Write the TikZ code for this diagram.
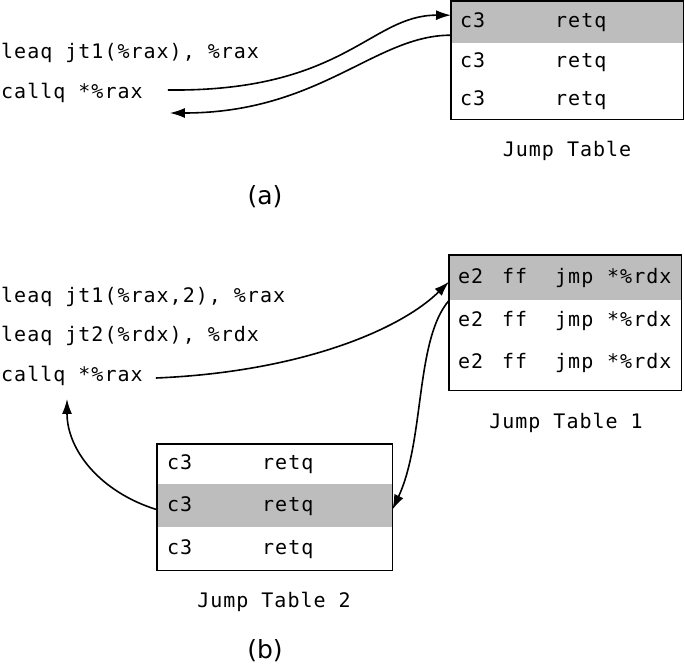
\documentclass[tikz,border=0pt]{standalone}
\usepackage{fontspec}
\setmainfont{DejaVu Sans}
\newfontfamily\codefont{DejaVu Sans Mono}[LetterSpace=5]
\usepackage{tikz}
\usetikzlibrary{arrows.meta}
\definecolor{rowgray}{gray}{0.74}
\tikzset{
  code/.style={anchor=west, inner sep=0pt, font=\codefont\fontsize{20}{22}\selectfont},
  jrow/.style={code, anchor=north west, text width=214pt, align=left, inner xsep=9pt, inner ysep=0pt},
  hot/.style={fill=rowgray},
  frame/.style={line width=1.7pt},
  flow/.style={line width=1.6pt, -{Latex[length=15pt,width=10pt]}},
  caption/.style={font=\fontsize{25}{28}\selectfont},
}

\begin{document}
\begin{tikzpicture}[x=1pt,y=-1pt]
\useasboundingbox (0,0) rectangle (685,669);
\node[code] (codeA1) at (1,53) {leaq jt1(\%rax), \%rax};
\node[code] (codeA2) at (1,93) {callq *\%rax};
\node[jrow,hot,minimum height=42pt] (jta1) at (451,1) {\makebox[95pt][l]{c3}retq};
\node[jrow,minimum height=38pt] (jta2) at (451,43) {\makebox[95pt][l]{c3}retq};
\node[jrow,minimum height=38pt] (jta3) at (451,81) {\makebox[95pt][l]{c3}retq};
\draw[frame] (jta1.north west) rectangle (jta3.south east);
\node[code,anchor=center] (jtaCap) at (567,151) {Jump Table};
\node[caption] (capA) at (265,197) {(a)};
\draw[flow] ([xshift=25pt,yshift=3pt]codeA2.east) .. controls (345,92) and (370,15) .. ([yshift=7pt]jta1.west);
\draw[flow] ([yshift=-13pt]jta1.west) .. controls (375,35) and (320,113) .. ([xshift=27pt,yshift=-20pt]codeA2.east);
\node[code] (codeB1) at (1,297) {leaq jt1(\%rax,2), \%rax};
\node[code] (codeB2) at (1,336) {leaq jt2(\%rdx), \%rdx};
\node[code] (codeB3) at (1,376) {callq *\%rax};
\node[jrow,hot,minimum height=45pt] (jtb1) at (449,255) {\makebox[44pt][l]{e2}\makebox[53pt][l]{ff}\makebox[52pt][l]{jmp}*\%rdx};
\node[jrow,minimum height=42pt] (jtb2) at (449,300) {\makebox[44pt][l]{e2}\makebox[53pt][l]{ff}\makebox[52pt][l]{jmp}*\%rdx};
\node[jrow,minimum height=42pt] (jtb3) at (449,342) {\makebox[44pt][l]{e2}\makebox[53pt][l]{ff}\makebox[52pt][l]{jmp}*\%rdx};
\draw[frame] (jtb1.north west) rectangle ([yshift=-6pt]jtb3.south east);
\node[code,anchor=center] (jtbCap) at (566,423) {Jump Table 1};
\node[jrow,text width=215pt,inner xsep=10pt,minimum height=40pt] (jtc1) at (157,444) {\makebox[95pt][l]{c3}retq};
\node[jrow,hot,text width=215pt,inner xsep=10pt,minimum height=43pt] (jtc2) at (157,484) {\makebox[95pt][l]{c3}retq};
\node[jrow,text width=215pt,inner xsep=10pt,minimum height=43pt] (jtc3) at (157,527) {\makebox[95pt][l]{c3}retq};
\draw[frame] (jtc1.north west) rectangle (jtc3.south east);
\node[code,anchor=center] (jtcCap) at (274,602) {Jump Table 2};
\node[caption] (capB) at (265,651) {(b)};
\draw[flow] ([xshift=13pt,yshift=-2pt]codeB3.east) .. controls (300,372) and (400,330) .. ([yshift=-4pt]jtb1.west);
\draw[flow] (jtb1.south west) .. controls (415,340) and (425,440) .. ([yshift=-4pt]jtc2.east);
\draw[flow] ([yshift=-4pt]jtc2.west) .. controls (100,492) and (67,450) .. ([xshift=66pt,yshift=-13pt]codeB3.south west);
\end{tikzpicture}
\end{document}
